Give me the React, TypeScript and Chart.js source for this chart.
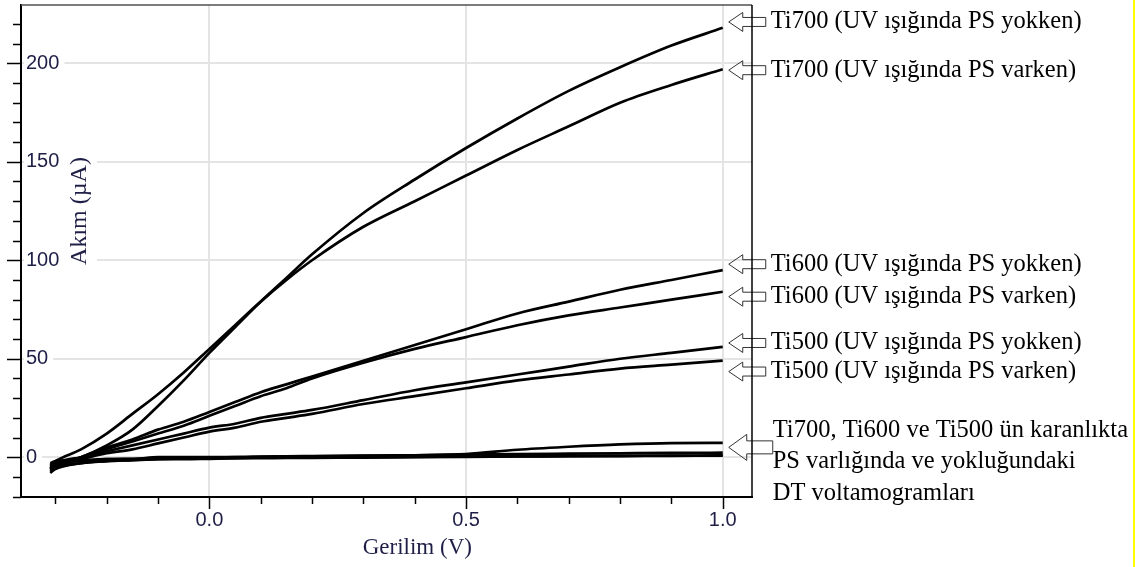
import React, { useEffect, useRef } from 'react';
import { Chart, registerables } from 'chart.js';

Chart.register(...registerables);

// Voltage (V) sampling points shared by all voltammograms
const voltage = [-0.31, -0.3, -0.25, -0.2, -0.15, -0.1, -0.05, 0, 0.05, 0.1, 0.15, 0.2, 0.3, 0.4, 0.5, 0.6, 0.7, 0.8, 0.9, 1.0];

// Current (µA)
const ti700Yokken = [-6, -4, 0, 6, 14, 26, 39, 53, 66, 79, 91, 103, 124, 141, 157, 172, 186, 198, 209, 218];
const ti700Varken = [-4, -2, 4, 12, 22, 32, 43, 55, 67, 79, 90, 100, 117, 130, 143, 156, 168, 180, 189, 197];
const ti600Yokken = [-6, -4, 0, 5, 9, 14, 18, 23, 28, 33, 37, 41, 49, 57, 65, 73, 79, 85, 90, 95];
const ti600Varken = [-7, -5, -1, 4, 8, 12, 16, 21, 26, 31, 35, 40, 48, 55, 61, 67, 72, 76, 80, 84];
const ti500Yokken = [-5, -3, 0, 3, 6, 9, 12, 15, 17, 20, 22, 24, 29, 34, 38, 42, 46, 50, 53, 56];
const ti500Varken = [-6, -4, -1, 2, 4, 7, 10, 13, 15, 18, 20, 22, 27, 31, 35, 39, 42, 45, 47, 49];
const darkA = [-4, -3, -2, -1, -1, 0, 0, 0, 0, 0.3, 0.5, 0.6, 0.8, 1, 1.6, 3.8, 5.3, 6.5, 7.2, 7.3];
const darkB = [-8, -6, -3, -2, -1.5, -1, -0.6, -0.3, 0, 0.2, 0.3, 0.5, 0.7, 1, 1.3, 1.6, 1.8, 2, 2.2, 2.3];
const darkC = [-6, -5, -3, -2, -1.5, -1, -1, -0.8, -0.6, -0.5, -0.4, -0.3, -0.2, 0, 0.2, 0.4, 0.6, 0.7, 0.8, 0.9];
const darkD = [-3, -2, -1.5, -1, -0.8, -0.6, -0.5, -0.4, -0.3, -0.2, -0.1, 0, 0.1, 0.2, 0.3, 0.4, 0.5, 0.6, 0.7, 0.8];

const seriesList = [ti700Yokken, ti700Varken, ti600Yokken, ti600Varken, ti500Yokken, ti500Varken, darkA, darkB, darkC, darkD];

// Axes
const xTickValues = [0, 0.5, 1.0];
const yTickValues = [0, 50, 100, 150, 200];
const xMinorTicks = [-0.3, -0.2, -0.1, 0, 0.1, 0.2, 0.3, 0.4, 0.5, 0.6, 0.7, 0.8, 0.9, 1.0];
const yMinorTicks = [-20, -10, 0, 10, 20, 30, 40, 50, 60, 70, 80, 90, 100, 110, 120, 130, 140, 150, 160, 170, 180, 190, 200, 210, 220];
const xTitle = 'Gerilim (V)';
const yTitle = 'Akım (µA)';

// Annotations (arrow labels on the right)
const annotationLabels = [
  ['Ti700 (UV ışığında PS yokken)'],
  ['Ti700 (UV ışığında PS varken)'],
  ['Ti600 (UV ışığında PS yokken)'],
  ['Ti600 (UV ışığında PS varken)'],
  ['Ti500 (UV ışığında PS yokken)'],
  ['Ti500 (UV ışığında PS varken)'],
  ['Ti700, Ti600 ve Ti500 ün karanlıkta', 'PS varlığında ve yokluğundaki', 'DT voltamogramları'],
];
const annotationCurrent = [221, 196.5, 98, 81.5, 58, 43.5, 5];

const SANS = "'Liberation Sans', Arial, sans-serif";
const SERIF = "'Liberation Serif', 'Times New Roman', serif";
const LABEL_COLOR = '#1e1e46';

export default function App() {
  const ref = useRef<HTMLCanvasElement>(null);

  useEffect(() => {
    const canvas = ref.current;
    if (!canvas) return;

    const decor = {
      id: 'decor',
      beforeDatasetsDraw(chart: any) {
        const { ctx, chartArea: ca, scales } = chart;
        const xs = scales.x;
        const ys = scales.y;
        ctx.save();
        // top frame (gray)
        ctx.strokeStyle = '#505050';
        ctx.lineWidth = 1.5;
        ctx.beginPath();
        ctx.moveTo(ca.left, ca.top);
        ctx.lineTo(ca.right, ca.top);
        ctx.stroke();
        // y tick marks (outside, left)
        ctx.strokeStyle = '#000';
        ctx.lineWidth = 1.5;
        yMinorTicks.forEach((v) => {
          const py = Math.round(ys.getPixelForValue(v)) + 0.5;
          const len = v % 50 === 0 ? 14 : 8;
          ctx.beginPath();
          ctx.moveTo(ca.left - len, py);
          ctx.lineTo(ca.left, py);
          ctx.stroke();
        });
        // x tick marks (outside, below)
        xMinorTicks.forEach((v) => {
          const px = Math.round(xs.getPixelForValue(v)) + 0.5;
          const major = Math.abs(v * 2 - Math.round(v * 2)) < 1e-6;
          const len = major ? 12 : 7;
          ctx.beginPath();
          ctx.moveTo(px, ca.bottom);
          ctx.lineTo(px, ca.bottom + len);
          ctx.stroke();
        });
        // y title with white backdrop
        const cy = ys.getPixelForValue(125);
        const cx = ca.left + 59;
        ctx.fillStyle = '#fff';
        ctx.fillRect(ca.left + 38, cy - 62, 38, 124);
        ctx.translate(cx, cy);
        ctx.rotate(-Math.PI / 2);
        ctx.font = `24px ${SERIF}`;
        ctx.fillStyle = LABEL_COLOR;
        ctx.textAlign = 'center';
        ctx.textBaseline = 'middle';
        ctx.fillText(yTitle, 0, 0);
        ctx.restore();
      },
      afterDraw(chart: any) {
        const { ctx, chartArea: ca, scales } = chart;
        const xs = scales.x;
        const ys = scales.y;
        ctx.save();
        // x title
        ctx.font = `23px ${SERIF}`;
        ctx.fillStyle = LABEL_COLOR;
        ctx.textAlign = 'center';
        ctx.textBaseline = 'middle';
        ctx.fillText(xTitle, xs.getPixelForValue(0.405), ca.bottom + 51);

        // annotations
        const tipX = xs.getPixelForValue(1.0) + 6;
        annotationLabels.forEach((lines, i) => {
          const ay = ys.getPixelForValue(annotationCurrent[i]);
          const big = lines.length > 1;
          const headLen = big ? 18 : 14;
          const headH = big ? 13 : 9.5;
          const shaftH = big ? 6.5 : 4.5;
          const total = big ? 44 : 37;
          ctx.strokeStyle = '#333';
          ctx.lineWidth = 1;
          ctx.beginPath();
          ctx.moveTo(tipX, ay);
          ctx.lineTo(tipX + headLen, ay - headH);
          ctx.lineTo(tipX + headLen, ay - shaftH);
          ctx.lineTo(tipX + total, ay - shaftH);
          ctx.lineTo(tipX + total, ay + shaftH);
          ctx.lineTo(tipX + headLen, ay + shaftH);
          ctx.lineTo(tipX + headLen, ay + headH);
          ctx.closePath();
          ctx.stroke();

          ctx.font = `24.5px ${SERIF}`;
          ctx.fillStyle = '#000';
          ctx.textAlign = 'left';
          ctx.textBaseline = 'middle';
          const tx = tipX + total + (big ? 0 : 5);
          const lineH = 31.5;
          const startY = big ? ay - 17 : ay;
          lines.forEach((t, k) => ctx.fillText(t, tx, startY + k * lineH));
        });

        // right frame (drawn over arrows)
        ctx.strokeStyle = '#000';
        ctx.lineWidth = 1.5;
        ctx.beginPath();
        ctx.moveTo(ca.right, ca.top);
        ctx.lineTo(ca.right, ca.bottom);
        ctx.stroke();

        // yellow edge line
        ctx.fillStyle = '#ffff00';
        ctx.fillRect(1133, 0, 2, chart.height);
        ctx.restore();
      },
    };

    const chart = new Chart(canvas, {
      type: 'line',
      data: {
        datasets: seriesList.map((s, i) => ({
          label: `s${i}`,
          data: voltage.map((v, k) => ({ x: v, y: s[k] })),
          borderColor: '#000',
          borderWidth: 2.7,
          pointRadius: 0,
          fill: false,
          cubicInterpolationMode: 'monotone' as const,
        })),
      },
      options: {
        responsive: false,
        animation: false,
        events: [],
        layout: { padding: { left: 0, top: 5, right: 390, bottom: 0 } },
        plugins: { legend: { display: false }, tooltip: { enabled: false } },
        scales: {
          x: {
            type: 'linear',
            position: 'bottom',
            min: -0.367,
            max: 1.057,
            afterBuildTicks: (s: any) => {
              s.ticks = xTickValues.map((v) => ({ value: v }));
            },
            afterFit: (s: any) => {
              s.height = 70;
              s.paddingLeft = 0;
              s.paddingRight = 0;
            },
            grid: { color: '#e4e4e4', lineWidth: 2, drawTicks: false },
            border: { color: '#000', width: 2 },
            ticks: {
              font: { family: SANS, size: 20 },
              color: LABEL_COLOR,
              padding: 11,
              maxRotation: 0,
              callback: (v: any) => Number(v).toFixed(1),
            },
          },
          y: {
            type: 'linear',
            position: 'left',
            min: -20.2,
            max: 229.6,
            afterBuildTicks: (s: any) => {
              s.ticks = yTickValues.map((v) => ({ value: v }));
            },
            afterFit: (s: any) => {
              s.width = 21;
              s.paddingTop = 0;
              s.paddingBottom = 0;
            },
            grid: { color: '#e4e4e4', lineWidth: 2, drawTicks: false },
            border: { color: '#000', width: 2 },
            ticks: {
              mirror: true,
              padding: 5,
              font: { family: SANS, size: 20 },
              color: LABEL_COLOR,
              showLabelBackdrop: true,
              backdropColor: '#fff',
              backdropPadding: { left: 2, right: 5, top: 0, bottom: 0 },
              callback: (v: any) => String(v),
            },
          },
        },
      },
      plugins: [decor],
    } as any);

    return () => chart.destroy();
  }, []);

  return (
    <div style={{ position: 'absolute', left: 0, top: 0, width: 1142, height: 567, background: '#fff' }}>
      <canvas ref={ref} width={1142} height={567} style={{ display: 'block' }} />
    </div>
  );
}
